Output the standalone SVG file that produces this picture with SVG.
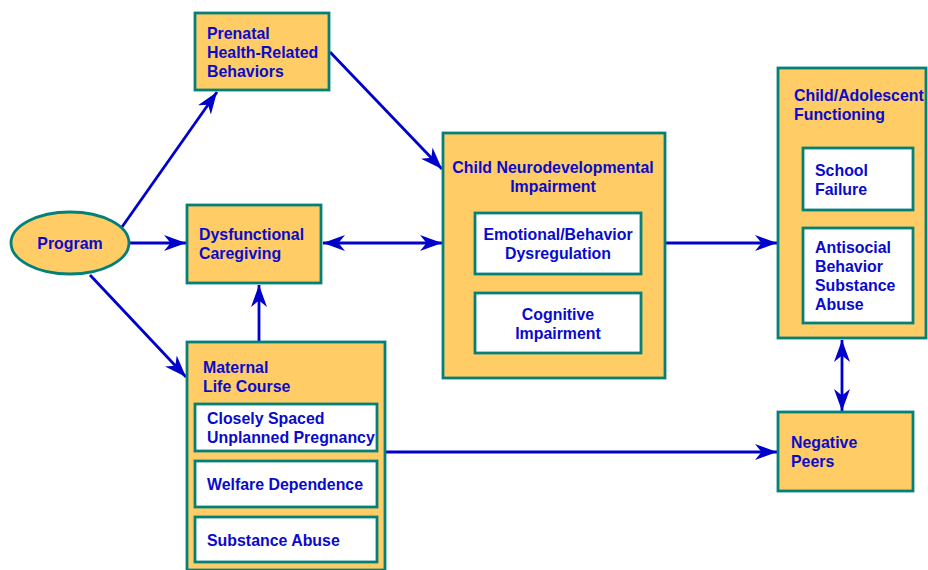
<svg xmlns="http://www.w3.org/2000/svg" width="928" height="570" viewBox="0 0 928 570">
<style>
.box{fill:#FFCC66;stroke:#058079;stroke-width:2.8}
.inner{fill:#FFFFFF;stroke:#058079;stroke-width:2.8}
text{font-family:"Liberation Sans",Arial,sans-serif;font-weight:bold;font-size:15.9px;fill:#0A0ACC}
.c{text-anchor:middle}
.arr{stroke:#0000CC;stroke-width:2.8;fill:none;marker-end:url(#ah)}
.dbl{marker-start:url(#ah)}
</style>
<defs>
<marker id="ah" markerUnits="userSpaceOnUse" viewBox="0 0 22 16" refX="22" refY="8" markerWidth="22" markerHeight="16" orient="auto-start-reverse">
<path d="M0,0 L22,8 L0,16 L6.5,8 z" fill="#0000CC"/>
</marker>
</defs>
<rect width="928" height="570" fill="#FFFFFF"/>
<g id="connectors">
<line class="arr" x1="122" y1="227" x2="217" y2="92"/>
<line class="arr" x1="130" y1="243" x2="186" y2="243"/>
<line class="arr" x1="90" y1="275" x2="186" y2="377"/>
<line class="arr" x1="330" y1="52" x2="442" y2="169"/>
<line class="arr dbl" x1="323" y1="243" x2="442" y2="243"/>
<line class="arr" x1="259" y1="341" x2="259" y2="285"/>
<line class="arr" x1="665" y1="243" x2="777" y2="243"/>
<line class="arr" x1="385" y1="452" x2="777" y2="452"/>
<line class="arr dbl" x1="842" y1="340" x2="842" y2="411"/>
</g>
<g id="program">
<ellipse class="box" cx="70" cy="243" rx="59" ry="31"/>
<text class="c" x="70" y="249">Program</text>
</g>
<g id="prenatal">
<rect class="box" x="195" y="13" width="134" height="77"/>
<text x="207" y="39">Prenatal</text>
<text x="207" y="58">Health-Related</text>
<text x="207" y="77">Behaviors</text>
</g>
<g id="dysfunctional">
<rect class="box" x="187" y="205" width="134" height="78"/>
<text x="199" y="240">Dysfunctional</text>
<text x="199" y="259">Caregiving</text>
</g>
<g id="maternal">
<rect class="box" x="187" y="342" width="198" height="228"/>
<text x="203" y="373">Maternal</text>
<text x="203" y="392">Life Course</text>
<rect class="inner" x="195" y="404" width="182" height="47"/>
<text x="207" y="424">Closely Spaced</text>
<text x="207" y="443">Unplanned Pregnancy</text>
<rect class="inner" x="195" y="461" width="182" height="46"/>
<text x="207" y="490">Welfare Dependence</text>
<rect class="inner" x="195" y="517" width="182" height="45"/>
<text x="207" y="546">Substance Abuse</text>
</g>
<g id="neuro">
<rect class="box" x="443" y="133" width="222" height="245"/>
<text class="c" x="553" y="173">Child Neurodevelopmental</text>
<text class="c" x="553" y="192">Impairment</text>
<rect class="inner" x="475" y="213" width="166" height="61"/>
<text class="c" x="558" y="240">Emotional/Behavior</text>
<text class="c" x="558" y="259">Dysregulation</text>
<rect class="inner" x="475" y="293" width="166" height="60"/>
<text class="c" x="558" y="320">Cognitive</text>
<text class="c" x="558" y="339">Impairment</text>
</g>
<g id="adolescent">
<rect class="box" x="778" y="68" width="148" height="270"/>
<text x="794" y="101">Child/Adolescent</text>
<text x="794" y="120">Functioning</text>
<rect class="inner" x="803" y="148" width="110" height="62"/>
<text x="815" y="176">School</text>
<text x="815" y="195">Failure</text>
<rect class="inner" x="803" y="228" width="110" height="95"/>
<text x="815" y="253">Antisocial</text>
<text x="815" y="272">Behavior</text>
<text x="815" y="291">Substance</text>
<text x="815" y="310">Abuse</text>
</g>
<g id="peers">
<rect class="box" x="778" y="412" width="135" height="79"/>
<text x="791" y="448">Negative</text>
<text x="791" y="467">Peers</text>
</g>
</svg>
